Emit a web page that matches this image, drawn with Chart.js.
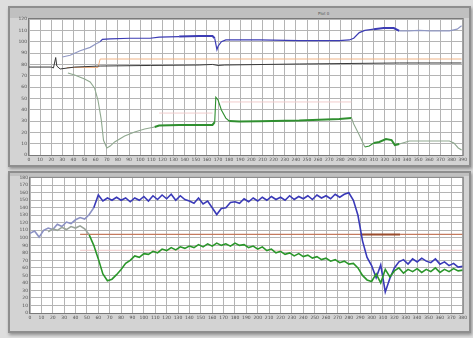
<!DOCTYPE html>
<html>
<head>
<meta charset="utf-8">
<script src="https://cdn.jsdelivr.net/npm/chart.js@4"></script>
<style>
body { margin:0; width:473px; height:338px; background:#dedede; overflow:hidden; position:relative; font-family:"DejaVu Sans", sans-serif; }
.panel { position:absolute; left:8px; width:459px; border:2px solid #8e8e8e; background:#d3d3d3; box-shadow:1px 2px 3px rgba(0,0,0,.35); }
#p1 { top:6px; height:157px; }
#p2 { top:171px; height:158px; }
.strip { position:absolute; left:0; top:0; right:0; background:#c0c0c0; }
#p1 .strip { height:10px; }
#p2 .strip { height:3px; }
.tag { position:absolute; top:3px; left:308px; font-size:4px; color:#555; }
canvas { position:absolute; left:0; top:0; filter:blur(0.4px); }
</style>
</head>
<body>
<div class="panel" id="p1"><div class="strip"></div><span class="tag">Plot 0</span><canvas id="topChart" width="459" height="157"></canvas></div>
<div class="panel" id="p2"><div class="strip"></div><canvas id="bottomChart" width="459" height="158"></canvas></div>
<script>
// top plot
const topBlueX = [30, 37, 46, 55, 60, 64, 66, 73, 91, 109, 117, 135, 153, 165, 167, 169, 170, 173, 177, 185, 207, 243, 279, 288, 292, 297, 302, 310, 319, 328, 333, 342, 351, 360, 369, 378, 385, 389];
const topBlueY = [86.5, 88, 92, 95, 98, 100, 102, 102.5, 103, 103, 104, 104.5, 105, 105, 103, 93, 96, 100, 101.5, 101.5, 101.5, 101, 101, 101.5, 103, 108, 110, 111, 112, 112, 109.5, 109.5, 110, 109.5, 109.5, 109.5, 111, 114];
const topBlackX = [0, 20, 22, 24, 25, 28, 35, 41, 64, 109, 153, 165, 170, 176, 243, 333, 389];
const topBlackY = [77.6, 77.6, 76.8, 86, 78.5, 75.9, 76.8, 77.6, 78.5, 79, 79.4, 79.9, 79, 79.4, 80.3, 81.2, 81.2];
const topOrangeX = [34, 62, 64, 389];
const topOrangeY = [77.2, 77.2, 84.7, 84.7];
const topPinkX = [117, 165, 169, 173, 290];
const topPinkY = [37, 37, null, 46.8, 46.8];
const topGreenX = [35, 41, 50, 55, 59, 62, 65, 67, 70, 73, 77, 86, 95, 104, 113, 117, 135, 153, 165, 167, 168, 170, 173, 177, 180, 189, 207, 243, 279, 290, 292, 297, 302, 306, 310, 315, 321, 326, 329, 333, 342, 360, 378, 382, 386, 389];
const topGreenY = [72.4, 70.6, 67, 64.4, 59, 48.5, 31, 13, 6.2, 7.9, 11.5, 16.8, 20.3, 23, 24.7, 26, 26.5, 26.5, 26.5, 29, 51, 48.5, 39.7, 32.6, 30, 29.6, 29.8, 30.4, 31.8, 32.6, 27.4, 17.6, 7.1, 7.9, 10.6, 11.5, 14.1, 13.2, 8.8, 9.7, 12.4, 12.4, 12.4, 10.6, 6.2, 4.4];

// bottom plot, sampled every 4 units
const bottomT = [0, 4, 8, 12, 16, 20, 24, 28, 32, 36, 40, 44, 48, 52, 56, 60, 64, 68, 72, 76, 80, 84, 88, 92, 96, 100, 104, 108, 112, 116, 120, 124, 128, 132, 136, 140, 144, 148, 152, 156, 160, 164, 168, 172, 176, 180, 184, 188, 192, 196, 200, 204, 208, 212, 216, 220, 224, 228, 232, 236, 240, 244, 248, 252, 256, 260, 264, 268, 272, 276, 280, 284, 288, 292, 296, 300, 304, 308, 312, 316, 320, 324, 328, 332, 336, 340, 344, 348, 352, 356, 360, 364, 368, 372, 376, 380];
const bottomBlue = [106, 109, 101, 110, 113, 111, 118, 115, 121, 119, 124, 127, 125, 131, 140, 157, 149, 153, 150, 154, 150, 153, 148, 153, 150, 155, 149, 156, 151, 157, 152, 158, 150, 156, 151, 149, 146, 153, 145, 149, 140, 131, 139, 140, 147, 148, 146, 152, 148, 153, 149, 154, 150, 155, 151, 154, 150, 156, 151, 155, 152, 156, 151, 157, 153, 156, 152, 158, 154, 158, 160, 150, 130, 96, 74, 63, 47, 64, 28, 46, 60, 68, 71, 65, 72, 68, 73, 69, 67, 72, 65, 68, 63, 66, 61, 62];
const bottomGreen = [null, null, null, null, 108, 112, 110, 114, 111, 115, 113, 116, 112, 104, 90, 72, 52, 43, 45, 51, 58, 66, 70, 76, 74, 79, 78, 82, 80, 85, 83, 87, 84, 88, 86, 89, 87, 91, 88, 92, 89, 93, 90, 92, 89, 93, 90, 91, 87, 89, 85, 88, 83, 85, 80, 82, 78, 80, 76, 79, 75, 77, 73, 75, 71, 73, 69, 71, 67, 69, 65, 66, 60, 50, 44, 42, 52, 40, 58, 48, 56, 60, 53, 58, 55, 59, 54, 58, 55, 60, 54, 58, 55, 59, 56, 57];
const bottomRedX = [44, 290, 325, 380];
const bottomRedY = [104.5, 104.5, 104.5, 104.5];
const bottomPinkX = [44, 380];
const bottomPinkY = [83.4, 83.4];

const pts = (xs, ys) => xs.map((x, i) => ({ x: x, y: ys[i] }));

function band(ranges, inside, outside) {
  return ctx => {
    const x = ctx.p0.parsed.x;
    return ranges.some(r => x >= r[0] && x < r[1]) ? inside : outside;
  };
}

const plotBg = {
  id: 'plotBg',
  beforeDraw(chart) {
    const { ctx, chartArea: a } = chart;
    ctx.save();
    ctx.fillStyle = '#ffffff';
    ctx.fillRect(a.left, a.top, a.width, a.height);
    ctx.restore();
  },
  afterDraw(chart) {
    const { ctx, chartArea: a } = chart;
    ctx.save();
    ctx.strokeStyle = '#7a7a7a';
    ctx.lineWidth = 1;
    ctx.strokeRect(a.left - 0.5, a.top - 0.5, a.width + 1, a.height + 1);
    ctx.restore();
  }
};

function options(xMax, yMax, yWidth, xHeight, pad) {
  const tickFont = { family: 'DejaVu Sans', size: 4.5 };
  return {
    responsive: false,
    animation: false,
    layout: { padding: pad },
    plugins: { legend: { display: false }, tooltip: { enabled: false } },
    elements: { point: { radius: 0 }, line: { tension: 0 } },
    scales: {
      x: {
        type: 'linear', min: 0, max: xMax,
        grid: { color: '#b4b4b4', drawTicks: false },
        border: { display: false },
        ticks: { stepSize: 10, autoSkip: false, maxRotation: 0, padding: 2, color: '#505050', font: tickFont },
        afterFit: s => { s.height = xHeight; }
      },
      y: {
        min: 0, max: yMax,
        grid: { color: '#b4b4b4', drawTicks: false },
        border: { display: false },
        ticks: { stepSize: 10, autoSkip: false, padding: 2, color: '#505050', font: tickFont },
        afterFit: s => { s.width = yWidth; }
      }
    }
  };
}

new Chart(document.getElementById('topChart'), {
  type: 'line',
  data: {
    datasets: [
      { data: pts(topGreenX, topGreenY), borderWidth: 1.2,
        segment: {
          borderColor: band([[113, 167], [167, 290], [302, 330]], '#2f8f2f', '#8fa88f'),
          borderWidth: band([[113, 167], [180, 290], [310, 330]], 2, 1.1)
        } },
      { data: pts(topBlueX, topBlueY), borderWidth: 1.3,
        segment: {
          borderColor: band([[64, 333]], '#3c3cb4', '#9098c4'),
          borderWidth: band([[135, 167], [310, 333]], 2, 1.2)
        } },
      { data: pts(topBlackX, topBlackY), borderColor: '#383838', borderWidth: 1 },
      { data: pts(topOrangeX, topOrangeY), borderColor: '#efb487', borderWidth: 1 },
      { data: pts(topPinkX, topPinkY), borderColor: '#f1cccc', borderWidth: 1 }
    ]
  },
  options: options(390, 120, 19, 10, { left: 0, top: 11, right: 5, bottom: 0 }),
  plugins: [plotBg]
});

new Chart(document.getElementById('bottomChart'), {
  type: 'line',
  data: {
    labels: bottomT,
    datasets: [
      { data: bottomGreen, borderWidth: 1.6,
        segment: { borderColor: band([[52, 400]], '#2a962a', '#9aa49a') } },
      { data: bottomBlue, borderWidth: 1.6,
        segment: { borderColor: band([[56, 400]], '#3a3ab8', '#8c92c4') } },
      { data: pts(bottomRedX, bottomRedY), borderWidth: 1.3,
        segment: {
          borderColor: band([[290, 325]], '#9a4a2a', '#c47a5e'),
          borderWidth: band([[290, 325]], 2, 1.3)
        } },
      { data: pts(bottomPinkX, bottomPinkY), borderColor: '#f0c8c8', borderWidth: 1 }
    ]
  },
  options: options(380, 180, 20, 18, { left: 0, top: 4, right: 3, bottom: 0 }),
  plugins: [plotBg]
});
</script>
</body>
</html>
